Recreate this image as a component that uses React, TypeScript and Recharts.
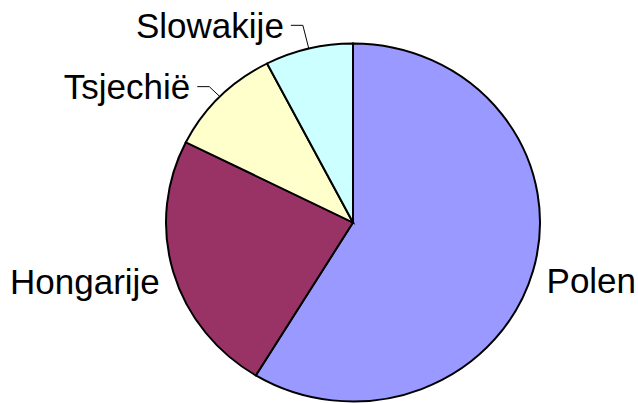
import { PieChart, Pie, Cell } from 'recharts';

// Aandeel per land (%)
const countries = ['Polen', 'Hongarije', 'Tsjechië', 'Slowakije'];
const shares = [58.7, 23.7, 10.0, 7.6];
const colors = ['#9999FF', '#993366', '#FFFFCC', '#CCFFFF'];

const data = countries.map((name, i) => ({ name, value: shares[i] }));

// the original pie is slightly flattened (wider than tall)
const SCALE_Y = 179 / 187;
const WIDTH = 638;
const HEIGHT = Math.ceil(403 / SCALE_Y);
const CENTER_X = 353;
const CENTER_Y = 222.5 / SCALE_Y;
const RADIUS = 187;

// small slices get a leader line, length in px
const leaderLength: Record<string, number> = { 'Tsjechië': 15, 'Slowakije': 25 };

const FONT = '"Liberation Sans", Arial, sans-serif';

function renderLabel(props: any) {
    const { cx, cy, midAngle, outerRadius, name } = props;
    const rad = (-midAngle * Math.PI) / 180;
    const cos = Math.cos(rad);
    const sin = Math.sin(rad);
    const right = cos >= 0;
    const anchor = right ? 'start' : 'end';
    const textTransform = (x: number, y: number) => `translate(${x},${y}) scale(1,${1 / SCALE_Y})`;

    const lead = leaderLength[name];
    if (lead) {
        const ex = cx + outerRadius * cos;
        const ey = cy + outerRadius * sin;
        const mx = cx + (outerRadius + lead) * cos;
        const my = cy + (outerRadius + lead) * sin;
        const hx = mx + (right ? 12 : -12);
        const tx = hx + (right ? 7 : -7);
        return (
            <g>
                <polyline
                    points={`${ex},${ey} ${mx},${my} ${hx},${my}`}
                    fill="none"
                    stroke="#000"
                    strokeWidth={1}
                />
                <text
                    transform={textTransform(tx, my)}
                    textAnchor={anchor}
                    dominantBaseline="central"
                    fontFamily={FONT}
                    fontSize={35}
                    fill="#000"
                >
                    {name}
                </text>
            </g>
        );
    }

    const lx = cx + (outerRadius + 14) * cos;
    const ly = cy + (outerRadius + 14) * sin + 6 / SCALE_Y;
    return (
        <text
            transform={textTransform(lx, ly)}
            textAnchor={anchor}
            dominantBaseline="central"
            fontFamily={FONT}
            fontSize={35}
            fill="#000"
        >
            {name}
        </text>
    );
}

export default function App() {
    return (
        <div
            style={{
                position: 'absolute',
                left: 0,
                top: 0,
                width: WIDTH,
                height: 403,
                overflow: 'hidden',
                background: '#fff',
            }}
        >
            <div style={{ transform: `scaleY(${SCALE_Y})`, transformOrigin: '0 0' }}>
                <PieChart width={WIDTH} height={HEIGHT} margin={{ top: 0, right: 0, bottom: 0, left: 0 }}>
                    <Pie
                        data={data}
                        dataKey="value"
                        nameKey="name"
                        cx={CENTER_X}
                        cy={CENTER_Y}
                        outerRadius={RADIUS}
                        startAngle={90}
                        endAngle={-270}
                        stroke="#000"
                        strokeWidth={2}
                        labelLine={false}
                        label={renderLabel}
                        isAnimationActive={false}
                    >
                        {data.map((entry, index) => (
                            <Cell key={`cell-${index}`} fill={colors[index]} />
                        ))}
                    </Pie>
                </PieChart>
            </div>
        </div>
    );
}
